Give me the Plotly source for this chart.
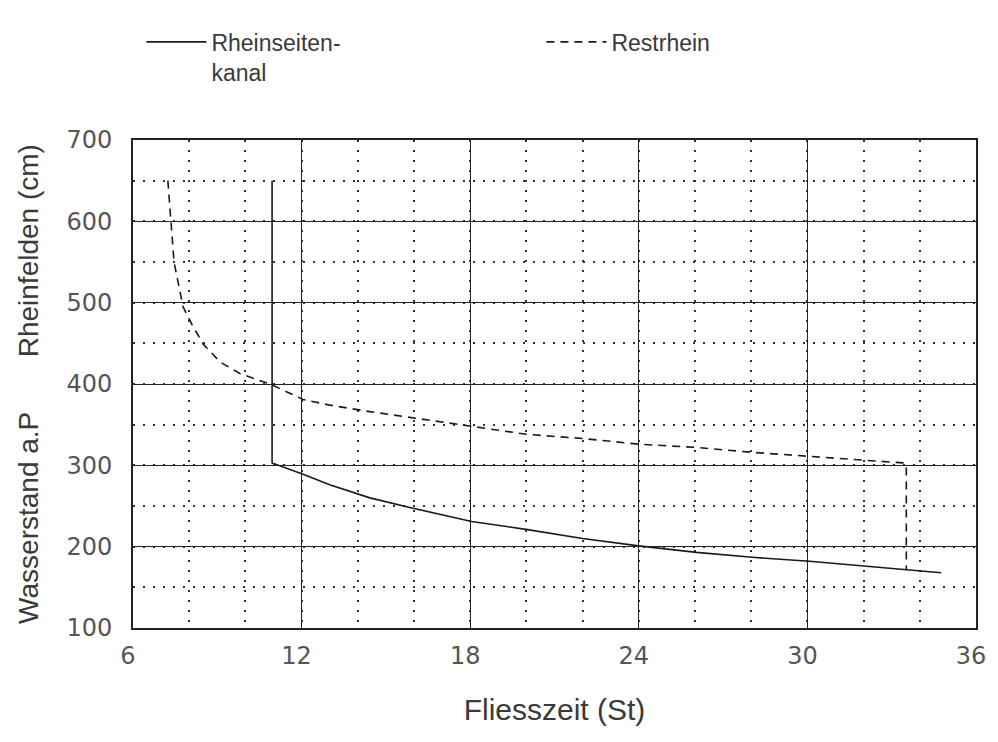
import plotly.graph_objects as go

# Data
kanal_x = [10.95, 10.95, 12.05, 13.0, 14.43, 16.0, 18.05, 20.04, 22.0, 24.0, 26.05, 28.04, 30.07, 32.1, 33.55, 34.76]
kanal_y = [650, 303, 289, 276, 260, 247, 231, 221, 210, 201, 193, 187, 182, 176, 171, 168]

rest_x = [7.24, 7.35, 7.46, 7.78, 8.1, 8.5, 9.1, 9.8, 10.94, 12.05, 13.0, 14.43, 16.0, 18.05, 20.04, 22.0, 24.0, 26.05, 28.04, 30.07, 32.1, 33.4, 33.52, 33.52]
rest_y = [650, 600, 550, 495, 473, 449, 427, 413, 399, 381, 374, 366, 358, 348, 338, 333, 326, 322, 316, 311, 306, 303, 301, 171]

x_ticks = [6, 12, 18, 24, 30, 36]
y_ticks = [100, 200, 300, 400, 500, 600, 700]

names = ["Rheinseiten-<br>kanal", "Restrhein"]

fig = go.Figure()
fig.add_trace(go.Scatter(x=kanal_x, y=kanal_y, mode="lines", name=names[0],
                         line=dict(color="#1a1a1a", width=1.6, dash="solid")))
fig.add_trace(go.Scatter(x=rest_x, y=rest_y, mode="lines", name=names[1],
                         line=dict(color="#1a1a1a", width=1.6, dash="8px,6px")))

tickfont = dict(family="DejaVu Sans", size=24, color="#555555")
gap = "\u00a0" * 7

fig.update_layout(
    width=990, height=734,
    margin=dict(l=125, r=14, t=129, b=114),
    paper_bgcolor="white", plot_bgcolor="white",
    showlegend=True,
    legend=dict(orientation="h", x=0.01, xanchor="left", y=1.245, yanchor="top",
                font=dict(family="Liberation Sans, Arial, sans-serif", size=23, color="#3a3a3a"),
                entrywidth=325, entrywidthmode="pixels", valign="top",
                bgcolor="rgba(0,0,0,0)", itemwidth=60, tracegroupgap=0),
    xaxis=dict(range=[6, 36], tickvals=x_ticks, ticks="", showline=True, mirror=True,
               linecolor="#222222", linewidth=1.8, showgrid=True, gridcolor="#222222", gridwidth=1.3,
               zeroline=False, tickfont=tickfont, ticklabelstandoff=5, ticklabeloverflow="allow",
               ticklabelshift=-5,
               minor=dict(dtick=2, showgrid=True, gridcolor="#333333", gridwidth=1.7, griddash="1.5px,8.5px"),
               title=dict(text="Fliesszeit (St)",
                          font=dict(family="Liberation Sans, Arial, sans-serif", size=30, color="#3a3a3a"),
                          standoff=30)),
    yaxis=dict(range=[100, 700], tickvals=y_ticks, ticks="", showline=True, mirror=True,
               linecolor="#222222", linewidth=1.8, showgrid=True, gridcolor="#222222", gridwidth=1.3,
               zeroline=False, tickfont=tickfont, ticklabelstandoff=14, ticklabeloverflow="allow",
               minor=dict(dtick=50, showgrid=True, gridcolor="#333333", gridwidth=1.7, griddash="1.5px,8.5px"),
               title=dict(text="Wasserstand a.P" + gap + "Rheinfelden (cm)",
                          font=dict(family="Liberation Sans, Arial, sans-serif", size=28, color="#3a3a3a"),
                          standoff=20)),
)

fig.write_html("out.html")
